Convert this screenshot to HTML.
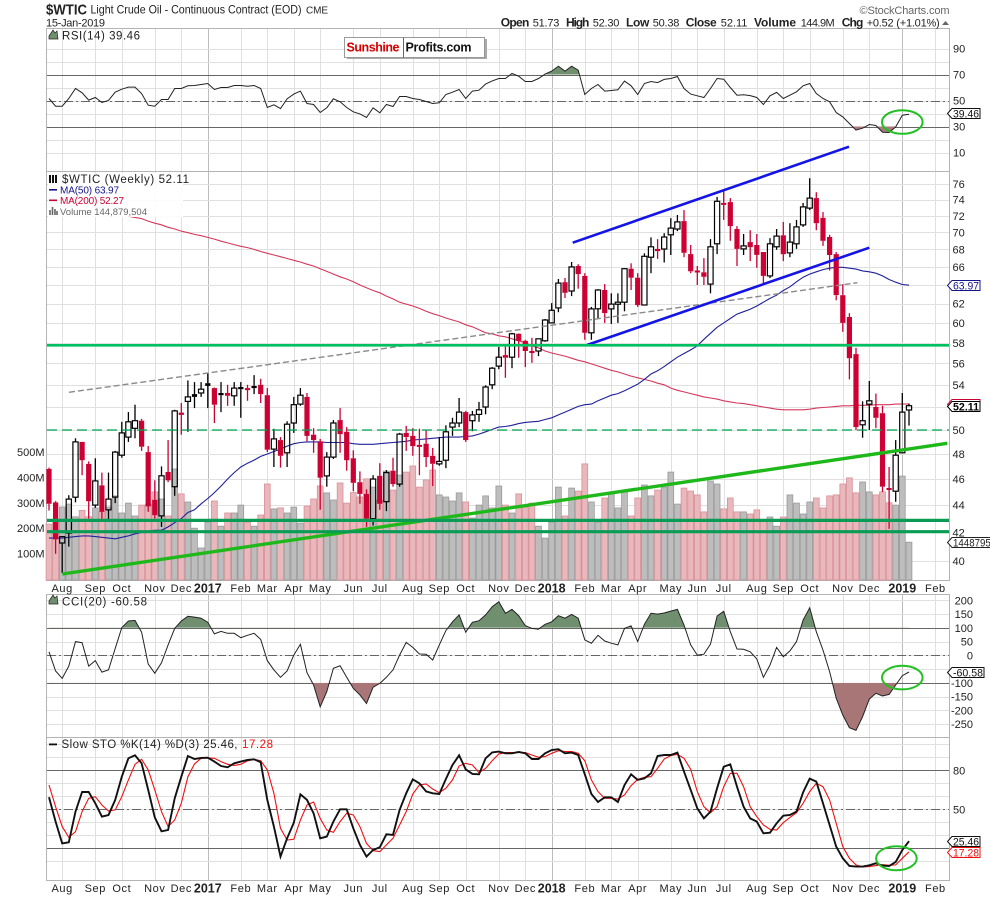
<!DOCTYPE html>
<html lang="en">
<head>
<meta charset="utf-8">
<title>$WTIC Light Crude Oil weekly chart</title>
<style>
html,body{margin:0;padding:0;background:#fff;}
body{width:990px;height:897px;overflow:hidden;}
svg{display:block;font-family:"Liberation Sans",Arial,sans-serif;}
text{fill:#222;}
</style>
</head>
<body>
<svg id="chart" width="990" height="897" viewBox="0 0 990 897" xmlns="http://www.w3.org/2000/svg">
  <rect x="0" y="0" width="990" height="897" fill="#fff"/>
  <g id="layer-grid"></g>
  <g id="layer-volume"></g>
  <g id="layer-price"></g>
  <g id="layer-ind"></g>
  <g id="layer-notes"></g>
  <g id="layer-labels"></g>

  <text x="46" y="14.5" font-size="15" font-weight="bold" textLength="41" lengthAdjust="spacingAndGlyphs">$WTIC</text>
  <text x="90.5" y="13.5" font-size="12" textLength="211" lengthAdjust="spacingAndGlyphs">Light Crude Oil - Continuous Contract (EOD)</text>
  <text x="306" y="13.5" font-size="10" textLength="22">CME</text>
  <text x="46" y="26.5" font-size="11" textLength="59">15-Jan-2019</text>
  <text x="859.5" y="14" font-size="11" style="fill:#666" textLength="90">©StockCharts.com</text>

  <g>
    <text x="500.7" y="26.5" font-size="12" font-weight="bold" textLength="28.7">Open</text>
    <text x="532.7" y="26.5" font-size="11" textLength="26.7">51.73</text>
    <text x="566" y="26.5" font-size="12" font-weight="bold" textLength="23.3">High</text>
    <text x="592.7" y="26.5" font-size="11" textLength="26.7">52.30</text>
    <text x="626" y="26.5" font-size="12" font-weight="bold" textLength="23.3">Low</text>
    <text x="652.7" y="26.5" font-size="11" textLength="26.7">50.38</text>
    <text x="685.7" y="26.5" font-size="12" font-weight="bold" textLength="31">Close</text>
    <text x="720.7" y="26.5" font-size="11" textLength="26.7">52.11</text>
    <text x="754" y="26.5" font-size="12" font-weight="bold" textLength="42">Volume</text>
    <text x="800.7" y="26.5" font-size="11" textLength="34">144.9M</text>
    <text x="841.7" y="26.5" font-size="12" font-weight="bold" textLength="21.7">Chg</text>
    <text x="866.7" y="26.5" font-size="11" textLength="73">+0.52 (+1.01%)</text>
    <polygon points="942,25 949,25 945.5,21" fill="#666"/>
  </g>

  <g>
    <rect x="347" y="39" width="140" height="20" fill="#aaa"/>
    <rect x="344.5" y="37.5" width="140" height="20" fill="#fff" stroke="#999"/>
    <line x1="403.5" y1="37.5" x2="403.5" y2="57.5" stroke="#666"/>
    <text x="346.5" y="51.5" font-size="12.5" font-weight="bold" style="fill:#d40000" textLength="53">Sunshine</text>
    <text x="405.5" y="51.5" font-size="12.5" font-weight="bold" style="fill:#111" textLength="66">Profits.com</text>
  </g>
</svg>

<script>
// ---------- categories ----------
const barCount = 131;
const dateLabels = ['Aug','Sep','Oct','Nov','Dec','2017','Feb','Mar','Apr','May','Jun','Jul','Aug','Sep','Oct','Nov','Dec','2018','Feb','Mar','Apr','May','Jun','Jul','Aug','Sep','Oct','Nov','Dec','2019','Feb'];
const dateIndexes = [2,7,11,16,20,24,29,33,37,41,46,50,55,59,63,68,72,76,81,85,89,94,98,102,107,111,115,120,124,129,134];
// k = close up on the week, r = close down on the week
const closeDirection = 'rrkkkrrkrkkkkkrrrkrkrkkkkrkrkkrkrrkrkkkrrrkkrrrrrkrkrkrrrrrkkkkrkkkkkrkrrrkkkkrkrrkkrkkkrrkkrkkkrrrrkkrrrkrrrkkrkkkkrrrrrrrkkrrrkkk';

// ---------- price series ----------
const opens = [46.8,44.2,41.25,41.95,44.6,49,47.2,44,45.5,43.65,44.6,47.9,49.4,50.15,50.8,48.15,44.4,43.2,46.55,45.4,51.5,52.5,53.15,53.25,54.15,53.7,53.25,53.25,53,53.8,53.7,53.9,54,53.05,48.4,49.15,48.1,50.6,52.25,52.9,49.6,49.05,46.25,47.75,50.85,49.85,47.65,45.75,44.85,43,46.25,44.25,46.65,45.6,49.75,49.5,48.75,48.85,47.85,47.2,47.5,50.25,50.6,51.55,50.8,51.35,52,54,55.75,56.8,56.6,58.9,58.2,57.2,57.2,58.2,60,61.55,64.3,63.35,66.1,65,59,61.45,63.45,61.45,61.95,62.15,65.8,64.8,61.85,67.1,68.05,68.05,69.7,70.4,71.35,67.45,65.6,65.4,64.1,68.65,73.6,73.7,70.4,68.05,68.85,68.5,67.7,65,68.3,69.65,67.6,68.65,70.9,72.95,74.2,71.75,69.45,67.45,62.9,60.6,56.9,50.45,52.25,52,51.45,45.3,45.05,48.1,51.73];
const closes = [44.1,41.5,41.7,44.45,49,47.5,44.3,45.85,43.5,44.45,48.15,49.75,50.7,50.8,48.6,43.9,43.25,46.25,45.9,51.65,51.3,52.9,52.9,53.6,53.9,52.2,53.05,53,53.7,53.6,53.6,53.7,53.15,48.35,49.25,47.85,50.5,52.2,53.05,49.5,49.15,46.1,47.75,50.6,49.65,47.5,45.7,44.85,43,46,44.1,46.5,45.6,49.65,49.4,48.65,48.6,47.75,47.2,47.4,49.85,50.6,51.55,49.15,51.3,51.75,53.8,55.55,56.6,56.55,58.9,58.2,57.2,57.1,58.4,60.3,61.3,64.2,63.15,66,65.2,59,61.45,63.45,61,61.95,62.15,65.8,64.8,61.85,67.2,68.3,67.8,69.45,70.5,71.25,67.6,65.5,65.4,64.9,68.3,73.8,73.35,70.75,68.05,68.4,68.25,67.35,65,68.65,69.55,67.45,68.85,70.65,73.1,74.2,71.1,69,67.35,62.9,60,56.5,50.25,50.8,52.55,51.05,45.4,45.2,47.9,51.55,52.11];
const highs = [46.9,44.3,41.7,44.75,49.3,49,47.4,47.65,46.5,46.5,48.25,50.7,51.55,52.2,50.95,48.65,45.9,47,49.15,51.75,52.35,54.4,54.25,54.25,55.1,53.75,54.25,54,54.25,54.25,54,54.9,54.55,53.7,50.1,49.4,50.75,52.9,53.7,53.25,50.15,49.25,48.15,50.85,51.9,50.25,48.3,46.6,45.2,46.3,47.25,46.7,47.7,49.75,50.35,50.15,50.1,50,48.5,49.4,50.4,51.05,52.8,51.65,51.65,52.45,53.95,55.65,57.6,57.7,59,58.95,58.3,58.5,58.4,60.4,62.05,64.65,64.75,66.55,66.3,65.3,61.65,63.55,64.1,63.1,63.1,65.85,66.4,65.3,67.55,69.4,69.2,69.9,71.7,72.1,72.7,68.5,66.1,67,69.2,74.35,75.1,74.2,70.75,69.8,70.25,69.8,67.7,69.3,70.4,71.25,71.1,71.5,73.6,76.75,74.95,72.45,69.7,67.7,64.1,61,57.5,52.5,54.35,53.2,52.1,46.95,49.15,53.25,52.3];
const lows = [43.6,40.5,39.2,41,44.2,46.3,43,43.8,42.9,42.9,44.15,47.7,49,49.3,48.25,43.5,43,42.4,45.75,44.7,49.6,49.85,51.9,52.9,51.9,50.6,51.55,52.1,52.1,51.05,52.55,53.15,52.35,48.15,46.95,46.9,46.95,49.75,52.1,49.05,48.1,43.65,45.4,47.6,48.1,46.65,45.05,44.1,42.4,42.5,43.65,43.55,45.4,45.4,48.25,47.85,46.3,46.95,45.45,47.05,46.85,49.5,50.25,49,49.9,50.7,51.35,53.6,55.45,54.65,55.55,56.55,55.65,56.05,56.7,58.1,60,61.1,62.6,62.8,63.6,58.3,58.3,60.5,60,59.9,60,61.2,63.45,61.65,61.85,65.3,66.9,66.5,67.35,70.15,67.1,65.3,64,64,63.1,67.45,71.5,69,66.1,67.35,66.65,65.9,64.1,64.75,67.95,66.65,67.1,68.05,70.65,72.7,70.25,68.4,65.6,62.35,59.1,54.5,50,49.35,50,50.15,45,42.25,44.25,48.1,50.38];
const volumes = [216,230,283,295,245,270,245,280,265,283,327,260,299,248,291,295,343,315,248,433,335,303,200,122,224,307,208,260,260,291,224,208,252,374,276,280,260,283,220,287,315,366,339,311,378,299,340,323,394,362,311,425,350,409,421,445,362,390,429,331,323,307,339,303,240,291,327,280,366,291,260,335,283,299,208,161,224,362,248,358,346,453,303,224,319,339,280,343,248,319,370,327,350,362,421,295,358,346,331,264,386,374,276,319,264,264,256,272,232,244,208,244,331,299,256,303,319,280,327,331,374,398,339,382,343,331,343,300,291,405,144.9];
const ma50 = [41.6,41.6,41.6,41.65,41.7,41.75,41.75,41.7,41.65,41.6,41.55,41.65,41.75,41.9,42,42.1,42.15,42.15,42.4,42.7,43,43.45,43.65,44.1,44.5,44.95,45.45,46,46.5,46.95,47.25,47.5,47.8,48,48.2,48.4,48.65,48.85,48.95,49,49,49,48.95,48.95,48.95,48.95,48.85,48.8,48.8,48.8,48.85,48.9,48.95,49,49.05,49.15,49.2,49.25,49.3,49.35,49.4,49.4,49.4,49.45,49.5,49.65,49.85,50.05,50.25,50.3,50.4,50.55,50.65,50.7,50.75,50.9,51.05,51.3,51.55,51.8,52.05,52.2,52.25,52.55,52.8,53.05,53.2,53.45,53.75,54.05,54.5,55,55.3,55.7,56.15,56.6,56.95,57.3,57.7,58.35,58.95,59.55,60,60.45,60.9,61.15,61.4,61.75,62.15,62.55,62.9,63.4,63.8,64.35,64.85,65.2,65.45,65.7,65.85,65.95,65.95,65.85,65.75,65.55,65.45,65.3,65,64.6,64.3,64.05,63.97];
const ma200FirstBar = 12;
const ma200 = [71.95,71.8,71.65,71.35,71.1,70.9,70.6,70.4,70.15,69.95,69.75,69.6,69.4,69.2,68.95,68.75,68.55,68.35,68.2,68,67.75,67.55,67.35,67.15,66.95,66.75,66.55,66.3,66.1,65.8,65.5,65.2,64.9,64.65,64.35,64,63.7,63.4,63.15,62.8,62.5,62.15,61.95,61.75,61.5,61.2,60.95,60.75,60.5,60.3,60.1,59.8,59.6,59.3,59,58.9,58.7,58.6,58.4,58.2,58,57.7,57.5,57.2,57,56.85,56.7,56.5,56.3,56.15,55.95,55.75,55.55,55.35,55.2,55,54.8,54.65,54.5,54.35,54.15,54,53.7,53.5,53.35,53.2,53.05,52.9,52.8,52.7,52.55,52.45,52.35,52.3,52.2,52.1,52,51.9,51.8,51.75,51.75,51.75,51.75,51.8,51.9,51.95,52,52.05,52.1,52.1,52.15,52.15,52.15,52.2,52.2,52.2,52.25,52.25,52.27];

// ---------- indicator series ----------
const rsiValues = [51.5,45.6,45.6,51.5,59.2,55.9,50.3,52.3,48.5,50,56.4,58.7,60.3,60.3,55.4,46.4,45.6,50.8,50.8,59.2,59.2,61.3,61.5,62.3,63.1,58.5,60,60,61.5,61.5,61,61.5,59.2,44.6,46.7,43.8,51.3,54.9,57.2,47.7,46.9,40.8,44.4,51.3,49,44.6,41.3,39.7,36.9,44.4,40.5,46.9,45.4,53.1,53.1,51.5,50.8,49.2,47.7,48.2,54.6,56.4,58.5,51.5,57.2,57.9,62.6,65.1,66.9,66.9,70.8,68.7,64.6,64.6,66.9,70.3,72.6,76.4,72.6,76.4,73.3,54.6,59.2,62.3,57.2,57.7,58.2,64.9,61.3,54.6,63.1,64.6,63.8,66.2,66.9,68.5,59.2,54.9,53.6,52.3,59.2,66.9,66.4,60,54.1,54.4,53.8,52.3,46.9,53.6,56.2,51.5,54.1,56.7,61.3,63.1,55.4,51.5,49,40.8,37.4,32.3,27.2,28.7,31.5,30.8,25.6,25.4,29.7,38.7,39.46];
const cciValues = [13,-57,-84,-39,50,46,-39,-19,-61,-53,25,101,125,127,84,-32,-65,-27,38,98,125,142,139,135,120,78,87,80,80,64,73,80,58,-19,-53,-80,-57,1,40,-63,-108,-187,-132,-47,-38,-80,-120,-144,-175,-116,-102,-80,-53,1,47,29,5,4,-17,38,90,122,147,84,120,126,147,177,195,153,167,144,108,98,95,113,122,144,135,149,135,56,44,73,52,44,38,98,107,50,113,153,150,154,161,167,110,38,1,4,41,143,160,86,23,22,13,-13,-80,-35,29,-5,16,50,128,173,86,19,-59,-156,-217,-263,-273,-223,-159,-138,-148,-142,-108,-74,-60.58];
const stoK = [59.2,40.5,23.8,24.6,48.2,63.3,63.3,54.6,44.4,45.6,57.2,75.1,89.2,91.5,85.4,64.9,43.8,33.1,34.1,58.5,75.1,91,88.7,89.5,89.7,86.7,83.3,82.3,85.4,86.7,87.9,88.5,86.2,57.2,36.7,13.6,27.7,39.7,61.5,57.2,46.9,27.7,29,40.5,50,50,35.4,22.6,13.6,18.7,20.8,30.8,30.3,49.5,62.3,73.1,70,63.8,62.3,61.8,73.3,84.1,91.5,80.8,77.2,76.9,89.2,93.8,94.4,93.1,93.1,94.1,93.1,88.7,88.7,93.1,95.6,96.2,93.1,93.6,91.8,76.9,61.8,55.6,59.2,59.2,55.6,68.7,76.9,72.6,73.8,77.7,91,91.8,91.8,93.6,79,64.9,50.8,43,48.2,66.2,82.8,84.6,67.4,52,43,40.5,31.5,32,39.2,45.1,45.6,48.2,63,73.6,71.3,54.6,37.9,21.3,12.3,6.4,5.9,5.9,6.9,8.5,6.7,6.4,9.5,18.7,25.46];
const stoD = [68.7,52,36.7,28.5,32.8,48.2,58.5,59.7,53.3,48.7,49.5,59.7,72.6,84.6,88.5,80.3,64.9,48.2,36.7,41.8,54.6,75.1,84.9,89.2,89.5,89.2,86.7,84.6,83.8,84.6,87.2,88.5,87.4,80.3,62.3,35.4,26.4,26.9,41.8,53.3,55.6,43,34.1,32.3,40.5,46.9,45.6,36.7,23.8,18.2,17.4,22.6,27.7,37.9,48.2,61.8,68.7,69.5,65.6,62.8,66.2,72.6,83.3,85.4,84.1,78.2,81.5,87.4,92.6,93.6,93.6,93.6,93.6,91.8,90,90.5,93.1,95.1,94.4,94.4,93.1,87.4,72.6,63.6,58.5,58.5,57.9,61,68.2,73,74.6,75.1,81.5,88.7,91.3,92.3,89.2,80.8,63.6,52,47.4,52,67.4,77.7,77.7,67.4,52,44.4,37.9,34.6,34.1,39.7,43.8,47.4,54.6,63.6,70,67.4,57.2,39.2,21.3,12.3,7.2,5.6,5.9,6.7,7.4,6.9,7.2,12.3,17.28];

// ---------- tick labels ----------
const priceTicks = [40,42,44,46,48,50,52,54,56,58,60,62,64,66,68,70,72,74,76];
const priceTickHidden = [52,64];
const volumeTicks = [100,200,300,400,500];
const rsiGrid = [10,20,30,40,50,60,70,80,90];
const rsiLabels = [10,30,50,70,90];
const cciGrid = [-250,-200,-150,-100,-50,0,50,100,150,200];
const cciLabels = [-250,-200,-150,-100,0,50,100,150,200];
const stoGrid = [10,20,30,40,50,60,70,80,90,100];
const stoLabels = [50,80];

// ---------- analyst annotations, as [bar index, price] ----------
const blueUpperChannel = [[79.17,68.77],[120.94,80.98]];
const blueLowerChannel = [[81.33,57.78],[124,68.19]];
const grayTrend = [[3.02,53.31],[122.2,64.25]];
const greenTrend = [[2.01,39.13],[135.8,48.88]];
const levelMajor = 57.75;
const levelDashed = 50;
const levelsSupport = [42.87,42.05];

// ---------- axis functions ----------
const PANEL_L = 47, PANEL_R = 949;
const xBar = i => 49 + 6.615 * i;
const yPrice = p => 430 - 587.5 * Math.log(p / 50);
const yVolume = v => 579 - v * 0.254;
const yRsi = v => 100.5 - (v - 50) * 1.3;
const yCci = v => 655.33 - v * 0.275;
const ySto = v => 809.3 - (v - 50) * 1.3;
const crisp = y => Math.round(y) + 0.5;

const NS = 'http://www.w3.org/2000/svg';
const layerGrid = document.getElementById('layer-grid');
const layerVolume = document.getElementById('layer-volume');
const layerPrice = document.getElementById('layer-price');
const layerInd = document.getElementById('layer-ind');
const layerNotes = document.getElementById('layer-notes');
const layerLabels = document.getElementById('layer-labels');

function make(parent, tag, attrs, txt) {
  const e = document.createElementNS(NS, tag);
  for (const k in attrs) e.setAttribute(k, attrs[k]);
  if (txt !== undefined) e.textContent = txt;
  parent.appendChild(e);
  return e;
}
const polyPoints = (vals, xf, yf, first) => vals.map((v, k) => xf(k + (first || 0)).toFixed(1) + ',' + yf(v).toFixed(1)).join(' ');

// ---------- panels and grids ----------
const panels = [
  {top: 28, bottom: 171, grid: rsiGrid, y: yRsi, name: 'rsi'},
  {top: 171, bottom: 580, grid: priceTicks, y: yPrice, name: 'price'},
  {top: 594, bottom: 737, grid: cciGrid, y: yCci, name: 'cci'},
  {top: 737, bottom: 880, grid: stoGrid, y: ySto, name: 'sto'}
];
panels.forEach(p => {
  dateIndexes.forEach((d, k) => {
    const isYear = /^\d{4}$/.test(dateLabels[k]);
    const vx = make(layerGrid, 'line', {x1: crisp(xBar(d)), x2: crisp(xBar(d)), y1: p.top, y2: p.bottom, stroke: isYear ? '#bdbdbd' : '#e0e0e0', 'stroke-width': 1});
    
    
  });
  p.grid.forEach(v => {
    const hz = make(layerGrid, 'line', {x1: PANEL_L, x2: PANEL_R, y1: crisp(p.y(v)), y2: crisp(p.y(v)), stroke: '#e0e0e0', 'stroke-width': 1});
    
    
  });
  const border = make(layerGrid, 'rect', {x: PANEL_L - 0.5, y: p.top + 0.5, width: PANEL_R - PANEL_L + 1, height: p.bottom - p.top, fill: 'none', stroke: '#b4b4b4', 'stroke-width': 1});
  
  
});

// reference lines for oscillators
[[yRsi(70), false, 'rsi-70'], [yRsi(50), true, 'rsi-50'], [yRsi(30), false, 'rsi-30'],
 [yCci(100), false, 'cci-100'], [yCci(0), true, 'cci-0'], [yCci(-100), false, 'cci-minus-100'],
 [ySto(80), false, 'sto-80'], [ySto(50), true, 'sto-50'], [ySto(20), false, 'sto-20']].forEach(r => {
  const ref = make(layerGrid, 'line', {x1: PANEL_L, x2: PANEL_R, y1: crisp(r[0]), y2: crisp(r[0]), stroke: '#666', 'stroke-width': 1});
  if (r[1]) ref.setAttribute('stroke-dasharray', '9 3 2 3');
  
  
});

// ---------- volume ----------
volumes.forEach((v, i) => {
  const down = closeDirection[i] === 'r';
  const top = yVolume(v);
  const bar = make(layerVolume, 'rect', {x: (xBar(i) - 2.9).toFixed(1), y: top.toFixed(1), width: 5.8, height: (580 - top).toFixed(1), fill: down ? '#e9b8bc' : '#bdbdbd', stroke: down ? '#d88f96' : '#999', 'stroke-width': 0.8});
  
  
});

// ---------- moving averages ----------
const ma200Line = make(layerPrice, 'polyline', {points: polyPoints(ma200, xBar, yPrice, ma200FirstBar), fill: 'none', stroke: '#d6375c', 'stroke-width': 1.1});


const ma50Line = make(layerPrice, 'polyline', {points: polyPoints(ma50, xBar, yPrice), fill: 'none', stroke: '#20209a', 'stroke-width': 1.1});



// ---------- candles ----------
closes.forEach((c, i) => {
  const o = opens[i];
  const col = closeDirection[i] === 'r' ? '#cc0033' : '#000';
  const hollow = c > o;
  const top = yPrice(Math.max(o, c)), bot = yPrice(Math.min(o, c));
  const x = xBar(i);
  const wickTop = make(layerPrice, 'line', {x1: x.toFixed(1), x2: x.toFixed(1), y1: yPrice(highs[i]).toFixed(1), y2: top.toFixed(1), stroke: col, 'stroke-width': 1.3});
  
  
  const wickBot = make(layerPrice, 'line', {x1: x.toFixed(1), x2: x.toFixed(1), y1: bot.toFixed(1), y2: yPrice(lows[i]).toFixed(1), stroke: col, 'stroke-width': 1.3});
  
  
  const h = Math.max(bot - top, 2);
  const body = make(layerPrice, 'rect', {x: (x - 2.6).toFixed(1), y: top.toFixed(1), width: 5.2, height: h.toFixed(1), fill: hollow ? 'none' : col, stroke: hollow ? col : 'none', 'stroke-width': 1.2});
  
  
});

// ---------- analyst annotations ----------
const trendLines = [
  [grayTrend, '#8a8a8a', 1.4, '6 3', 'gray-dashed-trendline'],
  [greenTrend, '#1fb81a', 3.4, '', 'green-support-trendline'],
  [blueUpperChannel, '#1414e6', 2.6, '', 'blue-channel-upper'],
  [blueLowerChannel, '#1414e6', 2.6, '', 'blue-channel-lower']
];
trendLines.forEach(t => {
  const ln = make(layerNotes, 'line', {x1: xBar(t[0][0][0]).toFixed(1), y1: yPrice(t[0][0][1]).toFixed(1), x2: xBar(t[0][1][0]).toFixed(1), y2: yPrice(t[0][1][1]).toFixed(1), stroke: t[1], 'stroke-width': t[2]});
  if (t[3]) ln.setAttribute('stroke-dasharray', t[3]);
  
  
});
const majorLine = make(layerNotes, 'line', {x1: PANEL_L, x2: PANEL_R, y1: yPrice(levelMajor).toFixed(1), y2: yPrice(levelMajor).toFixed(1), stroke: '#00c060', 'stroke-width': 2.6});


const dashedLine = make(layerNotes, 'line', {x1: PANEL_L, x2: PANEL_R, y1: yPrice(levelDashed).toFixed(1), y2: yPrice(levelDashed).toFixed(1), stroke: '#00a550', 'stroke-width': 1.3, 'stroke-dasharray': '10 5'});


levelsSupport.forEach(l => {
  const sup = make(layerNotes, 'line', {x1: PANEL_L, x2: PANEL_R, y1: yPrice(l).toFixed(1), y2: yPrice(l).toFixed(1), stroke: '#0a9c55', 'stroke-width': 3.2});
  
  
});

// ---------- oscillator fills and lines ----------
let clipCount = 0;
function zoneFill(vals, yf, level, above, colour, name) {
  const id = 'zone' + (clipCount++);
  const defs = make(layerInd, 'defs', {});
  const clip = make(defs, 'clipPath', {id: id});
  const ly = yf(level);
  make(clip, 'rect', {x: PANEL_L, width: PANEL_R - PANEL_L, y: above ? ly - 200 : ly, height: 200});
  const pts = xBar(0).toFixed(1) + ',' + ly.toFixed(1) + ' ' + polyPoints(vals, xBar, yf) + ' ' + xBar(vals.length - 1).toFixed(1) + ',' + ly.toFixed(1);
  const area = make(layerInd, 'polygon', {points: pts, fill: colour, stroke: 'none', 'clip-path': 'url(#' + id + ')'});
  
  
}
zoneFill(rsiValues, yRsi, 70, true, '#6f8f6f', 'rsi-overbought-fill');
zoneFill(rsiValues, yRsi, 30, false, '#a87a7a', 'rsi-oversold-fill');
zoneFill(cciValues, yCci, 100, true, '#6f8f6f', 'cci-overbought-fill');
zoneFill(cciValues, yCci, -100, false, '#a87676', 'cci-oversold-fill');

const rsiLine = make(layerInd, 'polyline', {points: polyPoints(rsiValues, xBar, yRsi), fill: 'none', stroke: '#222', 'stroke-width': 1});


const cciLine = make(layerInd, 'polyline', {points: polyPoints(cciValues, xBar, yCci), fill: 'none', stroke: '#222', 'stroke-width': 1});


const stoDLine = make(layerInd, 'polyline', {points: polyPoints(stoD, xBar, ySto), fill: 'none', stroke: '#f01010', 'stroke-width': 1.1});


const stoKLine = make(layerInd, 'polyline', {points: polyPoints(stoK, xBar, ySto), fill: 'none', stroke: '#111', 'stroke-width': 1.9});



// ---------- highlight ellipses ----------
const rsiEllipse = make(layerNotes, 'ellipse', {cx: xBar(129).toFixed(1), cy: yRsi(33.5).toFixed(1), rx: 20.3, ry: 11.8, fill: 'none', stroke: '#22c022', 'stroke-width': 2});


const cciEllipse = make(layerNotes, 'ellipse', {cx: xBar(129).toFixed(1), cy: yCci(-81).toFixed(1), rx: 20.3, ry: 11.8, fill: 'none', stroke: '#22c022', 'stroke-width': 2});


const stoEllipse = make(layerNotes, 'ellipse', {cx: xBar(128.1).toFixed(1), cy: ySto(12.3).toFixed(1), rx: 20.3, ry: 12, fill: 'none', stroke: '#22c022', 'stroke-width': 2});



// ---------- axis labels ----------
function axisText(x, y, txt, anchor) {
  return make(layerLabels, 'text', {x: x, y: y.toFixed(1), 'font-size': 11, 'text-anchor': anchor || 'start'}, txt);
}
priceTicks.filter(t => priceTickHidden.indexOf(t) < 0).forEach(t => {
  const lab = axisText(952.5, yPrice(t) + 4, String(t));
  
  
});
rsiLabels.forEach(t => {
  const lab = axisText(953, yRsi(t) + 4, String(t));
  
  
});
cciLabels.forEach(t => {
  const lab = axisText(973, yCci(t) + 4, String(t), 'end');
  
  
});
stoLabels.forEach(t => {
  const lab = axisText(953, ySto(t) + 4, String(t));
  
  
});
volumeTicks.forEach(t => {
  const lab = axisText(44.5, yVolume(t) + 4, t + 'M', 'end');
  
  
});
[592, 892].forEach(base => {
  dateLabels.forEach((d, k) => {
    const year = /^\d{4}$/.test(d);
    const lab = make(layerLabels, 'text', {x: xBar(dateIndexes[k]).toFixed(1), y: base + (year ? 0.5 : 0), 'text-anchor': 'middle', 'font-size': year ? 12.5 : 11, 'font-weight': year ? 'bold' : 'normal', 'letter-spacing': year ? 0 : 0.6}, d);
    
    
  });
});

// ---------- last-value tags ----------
function valueTag(y, txt, colour, bold) {
  const right = 980 + (txt.length - 5) * 4;
  const pts = '947.5,' + y + ' 952,' + (y - 5) + ' ' + right + ',' + (y - 5) + ' ' + right + ',' + (y + 5) + ' 952,' + (y + 5);
  const g = make(layerLabels, 'g', {});
  make(g, 'polygon', {points: pts, fill: '#fff', stroke: colour, 'stroke-width': 1});
  const t = make(g, 'text', {x: 953, y: y + 4, 'font-size': 11, 'font-weight': bold ? 'bold' : 'normal', textLength: (txt.length <= 6 ? right - 954 : txt.length * 5.4), lengthAdjust: 'spacingAndGlyphs'}, txt);
  t.style.fill = colour;
  return g;
}
const lastIndex = closes.length - 1;
const tagRsi = valueTag(Math.round(yRsi(rsiValues[lastIndex])) - 0.5, rsiValues[lastIndex].toFixed(2), '#111', false);


const tagMa50 = valueTag(Math.round(yPrice(ma50[ma50.length - 1])) + 0.5, ma50[ma50.length - 1].toFixed(2), '#14148c', false);


const tagMa200 = valueTag(Math.round(yPrice(ma200[ma200.length - 1])) + 0.5, ma200[ma200.length - 1].toFixed(2), '#cc0033', false);


const tagClose = valueTag(Math.round(yPrice(closes[lastIndex])) + 0.5, closes[lastIndex].toFixed(2), '#000', true);


const tagVolume = valueTag(Math.round(yVolume(volumes[lastIndex])) + 0.5, '144879504', '#222', false);


const tagCci = valueTag(Math.round(yCci(cciValues[lastIndex])) + 0.5, cciValues[lastIndex].toFixed(2), '#111', false);


const tagK = valueTag(Math.round(ySto(stoK[lastIndex])) + 0.5, stoK[lastIndex].toFixed(2), '#111', false);


const tagD = valueTag(Math.round(ySto(stoD[lastIndex])) + 0.5, stoD[lastIndex].toFixed(2), '#f01010', false);



// ---------- panel legends ----------
function legendText(x, y, txt, colour, len, size) {
  const t = make(layerLabels, 'text', {x: x, y: y, 'font-size': size || 11.5}, txt);
  t.style.fill = colour;
  if (len) t.setAttribute('textLength', len);
  return t;
}
const lgBg = make(layerLabels, 'rect', {x: 48, y: 173, width: 135, height: 44, fill: '#fff', opacity: 0.9});


const lgRsi = legendText(62, 39.5, 'RSI(14) 39.46', '#222', 78);


const lgWtic = legendText(62, 183, '$WTIC (Weekly) 52.11', '#222', 127);


const lgMa50 = legendText(60, 193.5, 'MA(50) 63.97', '#14148c', 59, 10);


const lgMa200 = legendText(60, 204, 'MA(200) 52.27', '#cc0033', 64, 10);


const lgVol = legendText(60, 215, 'Volume 144,879,504', '#666', 87, 9.5);


const lgCci = legendText(62, 605.5, 'CCI(20) -60.58', '#222', 85);


const lgSto = legendText(61.5, 748, 'Slow STO %K(14) %D(3) 25.46,', '#222', 176);


const lgStoD = legendText(242, 748, '17.28', '#f01010', 31);



// ---------- legend icons ----------
const iconRsi = make(layerLabels, 'polygon', {points: '49,39 49,36 53,30 55,33 57,31 58,39', fill: '#6f8f6f', stroke: '#222', 'stroke-width': 0.7});


const iconCci = make(layerLabels, 'polygon', {points: '49,604 49,601 53,595 55,598 57,596 58,604', fill: '#6f8f6f', stroke: '#222', 'stroke-width': 0.7});


const iconWtic = make(layerLabels, 'path', {d: 'M50 175v8M50.5 177h-1M53 175v8M56 175v8', stroke: '#111', 'stroke-width': 2, fill: 'none'});


const iconMa50 = make(layerLabels, 'rect', {x: 49, y: 189, width: 8, height: 1.6, fill: '#14148c'});


const iconMa200 = make(layerLabels, 'rect', {x: 49, y: 199.5, width: 8, height: 1.6, fill: '#cc0033'});


const iconVol = make(layerLabels, 'path', {d: 'M50 215v-5M52.5 215v-8M55 215v-6M57 215v-4', stroke: '#666', 'stroke-width': 1.6, fill: 'none'});


const iconSto = make(layerLabels, 'rect', {x: 49, y: 743.5, width: 8, height: 1.8, fill: '#111'});


</script>
</body>
</html>
